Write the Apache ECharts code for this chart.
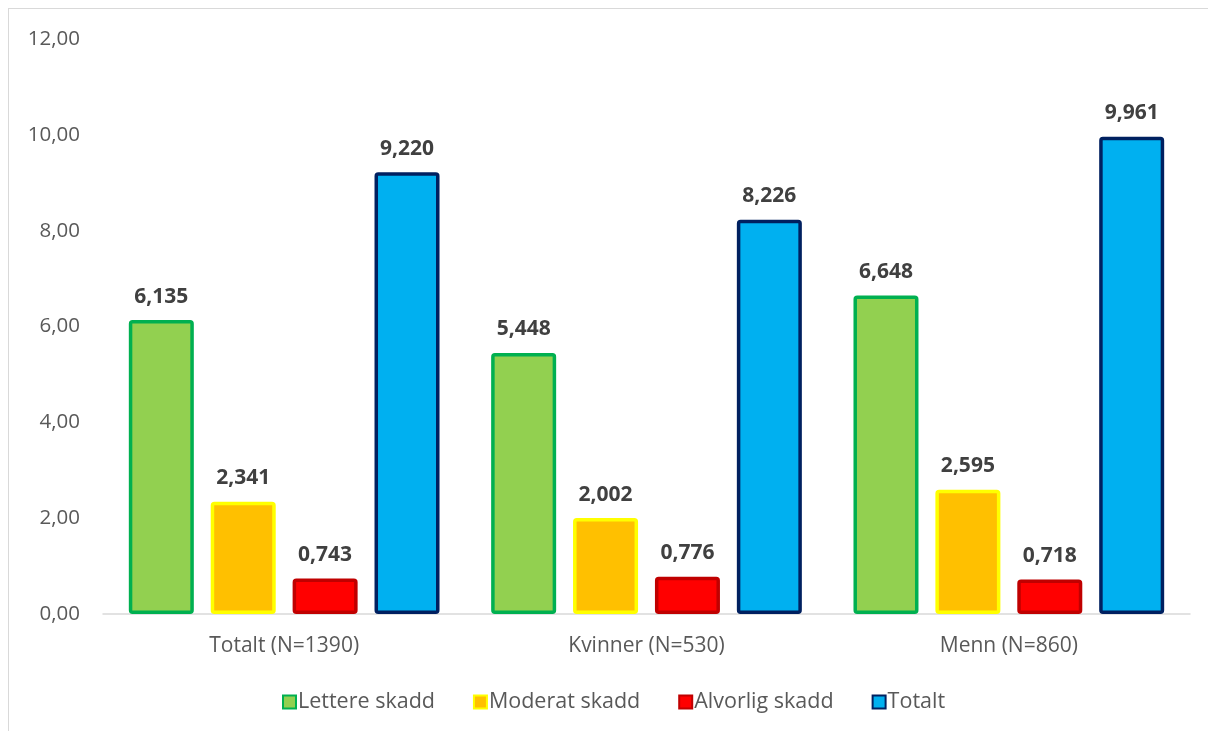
<!DOCTYPE html>
<html>
<head>
<meta charset="utf-8">
<script src="https://cdn.jsdelivr.net/npm/echarts@6/dist/echarts.min.js"></script>
<style>
  html, body { margin: 0; padding: 0; background: #fff; }
  #frame { position: absolute; left: 8px; top: 8px; width: 1210px; height: 730px; border: 1px solid #d9d9d9; box-sizing: border-box; }
  #chart { position: absolute; left: 0; top: 0; width: 1208px; height: 731px; }
</style>
</head>
<body>
<div id="frame"></div>
<div id="chart"></div>
<script>
// Skader per gruppe
const categories = ['Totalt (N=1390)', 'Kvinner (N=530)', 'Menn (N=860)'];
const lettere = [6.135, 5.448, 6.648];
const moderat = [2.341, 2.002, 2.595];
const alvorlig = [0.743, 0.776, 0.718];
const totalt = [9.220, 8.226, 9.961];
const seriesNames = ['Lettere skadd', 'Moderat skadd', 'Alvorlig skadd', 'Totalt'];

const fills = ['#92D050', '#FFC000', '#FF0000', '#00B0F0'];
const borders = ['#00B050', '#FFFF00', '#C00000', '#002060'];
const values = [lettere, moderat, alvorlig, totalt];

const fmt = (v, d) => v.toFixed(d).replace('.', ',');
const font = '"Open Sans", "Liberation Sans", sans-serif';

const chart = echarts.init(document.getElementById('chart'));
chart.setOption({
  animation: false,
  textStyle: { fontFamily: font },
  grid: { left: 103, right: 18, top: 39, bottom: 117 },
  legend: {
    top: 686,
    left: 277,
    itemWidth: 13,
    itemHeight: 13,
    itemGap: 38,
    icon: 'rect',
    itemStyle: { borderWidth: 2 },
    textStyle: { fontSize: 21.5, color: '#595959', fontFamily: font, padding: [0, 0, 0, -3] },
    data: seriesNames
  },
  xAxis: {
    type: 'category',
    data: categories,
    axisLine: { lineStyle: { color: '#d9d9d9', width: 1.5 } },
    axisTick: { show: false },
    axisLabel: { fontSize: 21, color: '#595959', margin: 22, fontFamily: font }
  },
  yAxis: {
    type: 'value',
    min: 0, max: 12, interval: 2,
    splitLine: { show: false },
    axisLine: { show: false },
    axisTick: { show: false },
    axisLabel: { fontSize: 20.5, color: '#595959', margin: 23, fontFamily: font, formatter: v => fmt(v, 2) }
  },
  series: values.map((arr, i) => ({
    name: seriesNames[i],
    type: 'bar',
    data: arr,
    barWidth: 65,
    barGap: '26%',
    itemStyle: { color: fills[i], borderColor: borders[i], borderWidth: 3.5, borderRadius: 2 },
    label: {
      show: true,
      position: 'top',
      distance: 13,
      fontSize: 21,
      fontWeight: 'bold',
      color: '#404040',
      fontFamily: font,
      formatter: p => fmt(p.value, 3)
    }
  }))
});
</script>
</body>
</html>
